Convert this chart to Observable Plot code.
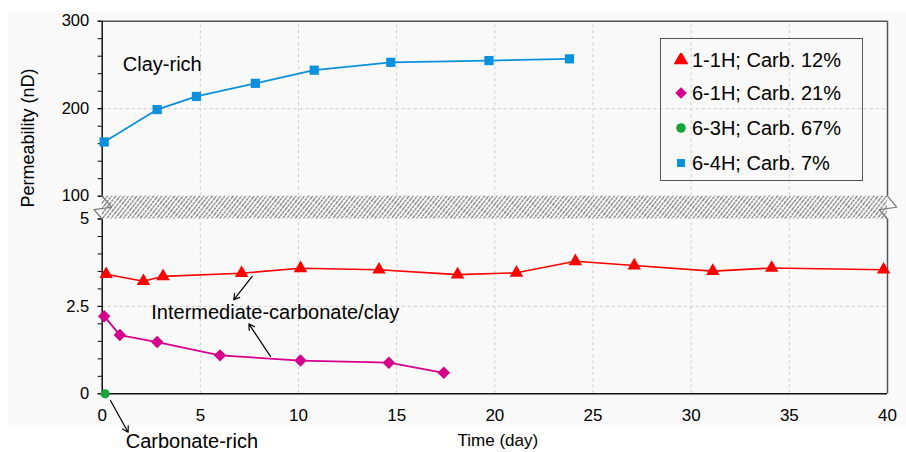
<!DOCTYPE html>
<html><head><meta charset="utf-8">
<script src="https://cdn.jsdelivr.net/npm/d3@7"></script>
<script src="https://cdn.jsdelivr.net/npm/@observablehq/plot@0.6"></script>
<style>
body{margin:0;background:#fff;font-family:"Liberation Sans",Arial,Helvetica,sans-serif;}
#wrap{position:relative;width:906px;height:452px;overflow:hidden;}
#bg{position:absolute;left:8px;top:12px;width:898px;height:413px;background:#f9f9f9;}
#chart{position:absolute;left:0;top:0;width:906px;height:452px;}
#legend{position:absolute;left:660px;top:38px;width:203px;height:143px;box-sizing:border-box;border:1px solid #555;}
.lrow{position:absolute;left:0;height:24px;line-height:24px;font-size:20px;color:#000;white-space:nowrap;}
.lrow svg{position:absolute;left:13px;top:5px;}
.lrow span{position:absolute;left:31px;top:0;}
</style></head><body>
<div id="wrap"><div id="bg"></div><div id="chart"></div><div id="legend"></div></div>
<script>
// ---- data ----
const days11 = [0.2, 2.1, 3.1, 7.1, 10.1, 14.1, 18.1, 21.1, 24.1, 27.1, 31.1, 34.1, 39.8];
const perm11 = [3.42, 3.22, 3.36, 3.45, 3.59, 3.55, 3.41, 3.46, 3.79, 3.67, 3.51, 3.60, 3.55];
const days61 = [0.1, 0.9, 2.8, 6.0, 10.1, 14.6, 17.4];
const perm61 = [2.22, 1.68, 1.48, 1.10, 0.95, 0.89, 0.60];
const days63 = [0.15];
const perm63 = [0];
const days64 = [0.1, 2.8, 4.8, 7.8, 10.8, 14.7, 19.7, 23.8];
const perm64 = [162, 199, 214, 229, 244, 253, 255, 257];
const seriesNames = ["1-1H; Carb. 12%", "6-1H; Carb. 21%", "6-3H; Carb. 67%", "6-4H; Carb. 7%"];
const xTicks = [0, 5, 10, 15, 20, 25, 30, 35, 40];
const yTicks = [0, 2.5, 5, 100, 200, 300];
const noteTexts = ["Clay-rich", "Intermediate-carbonate/clay", "Carbonate-rich"];
const noteX = [1.05, 2.5, 1.2];
const noteY = [250, 2.33, -1.38];
const arrowFromX = [7.64, 8.57, 0.42];
const arrowFromY = [3.36, 1.07, -0.19];
const arrowToX = [6.7, 7.47, 1.32];
const arrowToY = [2.69, 2.0, -1.1];

// ---- styling ----
const colors = ["#ff0000", "#d6008c", "#1aa33a", "#0a90dc"];
const symbols = ["triangle", "diamond2", "circle", "square"];
const font = '"Liberation Sans", Arial, Helvetica, sans-serif';

// broken y axis: 0–5 (lower panel), 5–100 (break band), 100–300 (upper panel)
const LOW = 174.8, BAND = 22.8, HIGH = 175;
const f = v => v <= 5 ? v * LOW / 5
  : v <= 100 ? LOW + (v - 5) * BAND / 95
  : LOW + BAND + (v - 100) * HIGH / 200;
const finv = t => t <= LOW ? t * 5 / LOW
  : t <= LOW + BAND ? 5 + (t - LOW) * 95 / BAND
  : 100 + (t - LOW - BAND) * 200 / HIGH;
const fmt = t => String(Math.round(finv(t) * 100) / 100);
const Y = k => d => f(d[k]);

const pts = (xs, ys) => xs.map((x, i) => ({x, y: ys[i]}));
const s11 = pts(days11, perm11), s61 = pts(days61, perm61), s63 = pts(days63, perm63), s64 = pts(days64, perm64);
const notes = noteTexts.map((t, i) => ({t, x: noteX[i], y: noteY[i]}));
const arrows = arrowFromX.map((x, i) => ({x1: x, y1: arrowFromY[i], x2: arrowToX[i], y2: arrowToY[i]}));
const minorTicks = [...d3.range(0, 5.01, 0.5), ...d3.range(100, 301, 20)];
const frameSegs = [{y1: 100, y2: 300}, {y1: 0, y2: 5}];
const breakL = [{x: 0, y: 100}, {x: 0.47, y: 54}, {x: -0.42, y: 44}, {x: 0, y: 5}];
const breakR = breakL.map(d => ({x: 40 + d.x, y: d.y}));
const vgrid = xTicks.slice(1, -1).map(x => ({x, y1: 0, y2: 300}));
const hgrid = [2.5, 200].map(y => ({y}));

const plot = Plot.plot({
  width: 906, height: 452,
  marginLeft: 101.7, marginRight: 19, marginTop: 20.7, marginBottom: 58.7,
  style: {background: "transparent", fontFamily: font, overflow: "visible", color: "#000"},
  x: {domain: [0, 40]},
  y: {domain: [0, f(300)]},
  marks: [
    Plot.ruleX(vgrid, {x: "x", y1: Y("y1"), y2: Y("y2"), stroke: "#cfcfcf", strokeDasharray: "3,3"}),
    Plot.ruleY(hgrid, {y: Y("y"), x1: 0, x2: 40, stroke: "#cfcfcf", strokeDasharray: "3,3"}),
    Plot.rect([{y1: 5, y2: 100}], {x1: 0, x2: 40, y1: Y("y1"), y2: Y("y2"), fill: "#123456"}),
    Plot.axisX(xTicks, {tickSize: 0, tickPadding: 15, fontSize: 17, label: null}),
    Plot.axisY(yTicks.map(f), {tickSize: 4, tickPadding: 9, fontSize: 16.5, label: null, tickFormat: fmt}),
    Plot.axisY(minorTicks.map(f), {tickSize: 4, tickFormat: () => "", label: null}),
    Plot.ruleY([{y: 300}], {y: Y("y"), x1: 0, x2: 40, stroke: "#555", strokeWidth: 1.5}),
    Plot.ruleX(frameSegs, {x: 40, y1: Y("y1"), y2: Y("y2"), stroke: "#555", strokeWidth: 1.5}),
    Plot.ruleX(frameSegs, {x: 0, y1: Y("y1"), y2: Y("y2"), stroke: "#111", strokeWidth: 1.5}),
    Plot.ruleY([{y: 0}], {y: Y("y"), x1: 0, x2: 40, stroke: "#111", strokeWidth: 1.5}),
    Plot.line(breakL, {x: "x", y: Y("y"), stroke: "#777", strokeWidth: 1.2}),
    Plot.line(breakR, {x: "x", y: Y("y"), stroke: "#777", strokeWidth: 1.2}),
    Plot.line(s11, {x: "x", y: Y("y"), stroke: colors[0], strokeWidth: 1.6}),
    Plot.line(s61, {x: "x", y: Y("y"), stroke: colors[1], strokeWidth: 1.8}),
    Plot.line(s64, {x: "x", y: Y("y"), stroke: colors[3], strokeWidth: 1.8}),
    Plot.dot(s11, {x: "x", y: Y("y"), symbol: "triangle", r: 5.0, fill: colors[0]}),
    Plot.dot(s61, {x: "x", y: Y("y"), symbol: "diamond2", r: 5.6, fill: colors[1]}),
    Plot.dot(s63, {x: "x", y: Y("y"), symbol: "circle", r: 4.6, fill: colors[2]}),
    Plot.dot(s64, {x: "x", y: Y("y"), symbol: "square", r: 5.2, fill: colors[3]}),
    Plot.text(notes, {x: "x", y: Y("y"), text: "t", textAnchor: "start", fontSize: 20, fill: "#000"}),
    Plot.arrow(arrows, {x1: "x1", y1: Y("y1"), x2: "x2", y2: Y("y2"), stroke: "#000", strokeWidth: 1.2, headLength: 8, bend: 0}),
    Plot.text(["Permeability (nD)"], {frameAnchor: "left", dx: -74, rotate: -90, fontSize: 18, fill: "#000"}),
    Plot.text(["Time (day)"], {frameAnchor: "bottom", dx: 3, dy: 52, fontSize: 17, fill: "#000"})
  ]
});

// hatch pattern for the axis break band
const ns = "http://www.w3.org/2000/svg";
const defs = document.createElementNS(ns, "defs");
defs.innerHTML = '<pattern id="hatch" patternUnits="userSpaceOnUse" width="3.3" height="12" patternTransform="rotate(38)">' +
  '<rect width="3.3" height="12" fill="#fbfbfb"/>' +
  '<line x1="0.8" y1="0" x2="0.8" y2="12" stroke="#3a3a3a" stroke-width="0.9" stroke-dasharray="2.6,0.8"/></pattern>';
plot.insertBefore(defs, plot.firstChild);
plot.querySelectorAll('[fill="#123456"]').forEach(el => el.setAttribute("fill", "url(#hatch)"));
document.getElementById("chart").appendChild(plot);

// legend
const legend = document.getElementById("legend");
const rowCenters = [22, 55.3, 90.3, 125.3];
const symSize = [95, 85, 72, 64];
seriesNames.forEach((name, i) => {
  const row = document.createElement("div");
  row.className = "lrow";
  row.style.top = (rowCenters[i] - 1 - 12) + "px";
  const sym = {triangle: d3.symbolTriangle, diamond2: d3.symbolDiamond2, circle: d3.symbolCircle, square: d3.symbolSquare}[symbols[i]];
  const path = d3.symbol(sym, symSize[i])();
  row.innerHTML = `<svg width="14" height="14" viewBox="-7 -7 14 14"><path d="${path}" fill="${colors[i]}"/></svg><span>${name}</span>`;
  legend.appendChild(row);
});
</script>
</body></html>
